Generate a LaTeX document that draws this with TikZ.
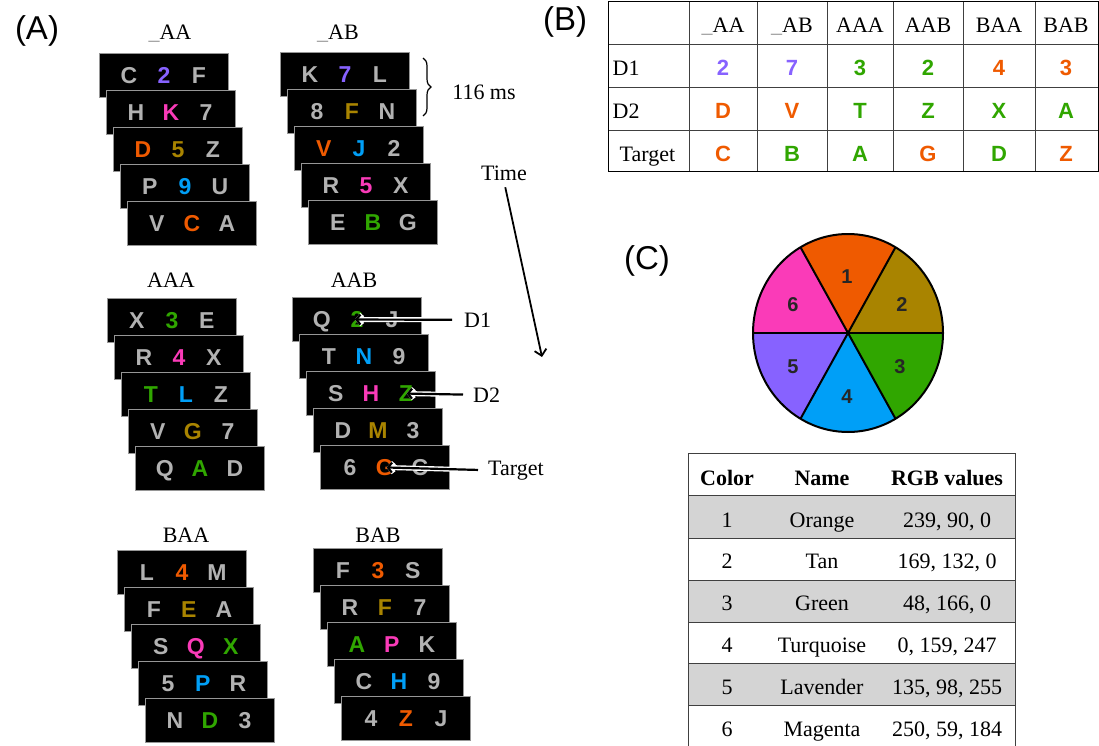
\documentclass[tikz,border=0pt]{standalone}
\usepackage{fontspec}
\setmainfont{Liberation Serif}
\newfontfamily\arialf{Liberation Sans}
\usetikzlibrary{arrows.meta,decorations.pathreplacing,calc}
\definecolor{corange}{RGB}{239,90,0}
\definecolor{ctan}{RGB}{169,132,0}
\definecolor{cgreen}{RGB}{48,166,0}
\definecolor{cturq}{RGB}{0,159,247}
\definecolor{clav}{RGB}{135,98,255}
\definecolor{cmag}{RGB}{250,59,184}
\definecolor{lgray}{RGB}{178,178,178}
\definecolor{fgray}{RGB}{150,150,150}
\definecolor{ugray}{RGB}{150,150,150}
\definecolor{tgray}{RGB}{212,212,212}
\newcommand\fsz[1]{\fontsize{#1}{#1}\selectfont}
\newcommand\kOr[1]{\textcolor{corange}{#1}}
\newcommand\kTn[1]{\textcolor{ctan}{#1}}
\newcommand\kGr[1]{\textcolor{cgreen}{#1}}
\newcommand\kTq[1]{\textcolor{cturq}{#1}}
\newcommand\kLv[1]{\textcolor{clav}{#1}}
\newcommand\kMg[1]{\textcolor{cmag}{#1}}
\newcommand\und{\textcolor{ugray}{\_}}
% stack: name, left, top, rows
\newcommand\stk[4]{%
  \foreach \a/\b/\c [count=\i from 0] in {#4} {
    \node[frame] (#1-\i) at ({#2+7*\i},{#3+37*\i}) {};
    \node[let] (#1-\i-a) at ([xshift=-35pt,yshift=-8.2pt]#1-\i.center) {\a};
    \node[let] (#1-\i-b) at ([yshift=-8.2pt]#1-\i.center) {\b};
    \node[let] (#1-\i-c) at ([xshift=35pt,yshift=-8.2pt]#1-\i.center) {\c};
  }%
}
\begin{document}
\begin{tikzpicture}[x=1pt,y=-1pt,
  frame/.style={anchor=north west, minimum width=129pt, minimum height=44pt,
    fill=black, draw=fgray, line width=0.8pt, inner sep=0pt},
  let/.style={font=\arialf\bfseries\fsz{23}, text=lgray, inner sep=0.5pt, anchor=base},
  lab/.style={font=\fsz{22}, inner sep=1pt, anchor=base},
  panel/.style={font=\arialf\fsz{33}, inner sep=0pt},
  cell/.style={font=\arialf\bfseries\fsz{22}, inner sep=0.5pt, anchor=base},
  tx/.style={font=\fsz{22}, inner sep=0.5pt, anchor=base},
  num/.style={font=\arialf\bfseries\fsz{20}, text=black!85, inner sep=0pt},
  halo/.style={black, line width=2.2pt, -{Straight Barb[length=4pt,width=10pt]},
    preaction={draw, white, line width=5pt, -{Straight Barb[length=4pt,width=10pt]}}},
  tarrow/.style={black, line width=1.8pt, -{Straight Barb[length=6pt,width=12pt]}},
  tline/.style={black!75, line width=0.9pt},
]
\useasboundingbox (0,0) rectangle (1099,746);
\fill[white] (0,0) rectangle (1099,746);

% ---------- Panel A ----------
\node[panel] (pA) at (37,31) {(A)};

\node[lab] (uAA-lab) at (170,40) {\und AA};
\stk{uAA}{99}{53}{C/\kLv{2}/F, H/\kMg{K}/7, \kOr{D}/\kTn{5}/Z, P/\kTq{9}/U, V/\kOr{C}/A}

\node[lab] (uAB-lab) at (338,40) {\und AB};
\stk{uAB}{280}{52}{K/\kLv{7}/L, 8/\kTn{F}/N, \kOr{V}/\kTq{J}/2, R/\kMg{5}/X, E/\kGr{B}/G}

\node[lab] (AAA-lab) at (171,287) {AAA};
\stk{AAA}{107}{298}{X/\kGr{3}/E, R/\kMg{4}/X, \kGr{T}/\kTq{L}/Z, V/\kTn{G}/7, Q/\kGr{A}/D}

\node[lab] (AAB-lab) at (354,287) {AAB};
\stk{AAB}{292}{297}{Q/\kGr{2}/J, T/\kTq{N}/9, S/\kMg{H}/\kGr{Z}, D/\kTn{M}/3, 6/\kOr{G}/C}

\node[lab] (BAA-lab) at (186,542) {BAA};
\stk{BAA}{117}{550}{L/\kOr{4}/M, F/\kTn{E}/A, S/\kMg{Q}/\kGr{X}, 5/\kTq{P}/R, N/\kGr{D}/3}

\node[lab] (BAB-lab) at (378,542) {BAB};
\stk{BAB}{313}{548}{F/\kOr{3}/S, R/\kTn{F}/7, \kGr{A}/\kMg{P}/K, C/\kTq{H}/9, 4/\kOr{Z}/J}

% brace and 116 ms
\coordinate (brT) at (423,58);
\coordinate (brB) at (423,116);
\draw[line width=1.2pt, decorate, decoration={brace, amplitude=8pt}] (brT) -- (brB);
\node[lab] (ms) at (484,100) {116 ms};

% time arrow
\node[lab] (Time) at (504,180) {Time};
\coordinate (tEnd) at (542,357);
\draw[tarrow, shorten <=6pt] (Time.south) -- (tEnd);

% D1 / D2 / Target
\node[lab, anchor=base west] (D1) at (463,327) {D1};
\node[lab, anchor=base west] (D2) at (472,402) {D2};
\node[lab, anchor=base west] (Tg) at (487,475) {Target};
\draw[halo, shorten <=11pt, shorten >=-9pt] (D1.west) -- (AAB-0-b.east);
\draw[halo, shorten <=9pt, shorten >=-7pt] (D2.west) -- (AAB-2-c.east);
\draw[halo, shorten <=9pt, shorten >=-8pt] (Tg.west) -- (AAB-4-b.east);

% ---------- Panel B ----------
\node[panel] (pB) at (565,22) {(B)};
\foreach \yy in {44,87,130} { \draw[tline] (608,\yy) -- (1098,\yy); }
\foreach \xx in {689,757,827,893,963,1035} { \draw[tline] (\xx,2) -- (\xx,172); }
\draw[black, line width=1pt] (608,2) rectangle (1098,172);

\node[tx] (hAA) at (723,33) {\und AA};
\node[tx] (hAB) at (792,33) {\und AB};
\node[tx] (hAAA) at (860,33) {AAA};
\node[tx] (hAAB) at (928,33) {AAB};
\node[tx] (hBAA) at (999,33) {BAA};
\node[tx] (hBAB) at (1066,33) {BAB};
\node[tx, anchor=base west] (rD1) at (612,76) {D1};
\node[tx, anchor=base west] (rD2) at (612,119) {D2};
\node[tx, anchor=base west] (rT) at (619,161) {Target};
\foreach \xx/\p/\q/\r [count=\k] in {723/\kLv{2}/\kOr{D}/\kOr{C}, 792/\kLv{7}/\kOr{V}/\kGr{B},
   860/\kGr{3}/\kGr{T}/\kGr{A}, 928/\kGr{2}/\kGr{Z}/\kOr{G},
   999/\kOr{4}/\kGr{X}/\kGr{D}, 1066/\kOr{3}/\kGr{A}/\kOr{Z}} {
  \node[cell] (b1-\k) at (\xx,76) {\p};
  \node[cell] (b2-\k) at (\xx,119) {\q};
  \node[cell] (b3-\k) at (\xx,161) {\r};
}

% ---------- Panel C ----------
\node[panel] (pC) at (647,261) {(C)};
\begin{scope}[shift={(848,333)}, y=1pt]
  \fill[ctan]    (0,0) -- (0:95 and 99)   arc[start angle=0,   end angle=60,  x radius=95, y radius=99] -- cycle;
  \fill[corange] (0,0) -- (60:95 and 99)  arc[start angle=60,  end angle=120, x radius=95, y radius=99] -- cycle;
  \fill[cmag]    (0,0) -- (120:95 and 99) arc[start angle=120, end angle=180, x radius=95, y radius=99] -- cycle;
  \fill[clav]    (0,0) -- (180:95 and 99) arc[start angle=180, end angle=240, x radius=95, y radius=99] -- cycle;
  \fill[cturq]   (0,0) -- (240:95 and 99) arc[start angle=240, end angle=300, x radius=95, y radius=99] -- cycle;
  \fill[cgreen]  (0,0) -- (300:95 and 99) arc[start angle=300, end angle=360, x radius=95, y radius=99] -- cycle;
  \draw[line width=2pt] (180:95 and 99) -- (0:95 and 99);
  \draw[line width=2pt] (60:95 and 99) -- (240:95 and 99);
  \draw[line width=2pt] (120:95 and 99) -- (300:95 and 99);
  \draw[line width=2pt] (0,0) ellipse [x radius=95, y radius=99];
\end{scope}
\node[num] (n1) at (847,277) {1};
\node[num] (n2) at (902,305) {2};
\node[num] (n3) at (900,367) {3};
\node[num] (n4) at (847,397) {4};
\node[num] (n5) at (793,367) {5};
\node[num] (n6) at (793,305) {6};

% colour table
\fill[tgray] (688,495) rectangle (1015,538);
\fill[tgray] (688,580) rectangle (1015,622);
\fill[tgray] (688,663) rectangle (1015,705);
\foreach \yy in {453,495,538,580,622,663,705} { \draw[tline, line width=1pt] (688,\yy) -- (1015,\yy); }
\draw[tline, line width=1pt] (688,453) -- (688,746);
\draw[tline, line width=1pt] (1015,453) -- (1015,746);
\node[tx, font=\bfseries\fsz{22}] (hC) at (727,485) {Color};
\node[tx, font=\bfseries\fsz{22}] (hN) at (822,485) {Name};
\node[tx, font=\bfseries\fsz{22}] (hR) at (947,485) {RGB values};
\foreach \n/\nm/\rgb [count=\k from 0] in {1/Orange/{239, 90, 0}, 2/Tan/{169, 132, 0},
   3/Green/{48, 166, 0}, 4/Turquoise/{0, 159, 247}, 5/Lavender/{135, 98, 255},
   6/Magenta/{250, 59, 184}} {
  \node[tx] (cc\n) at (727,{527+41.8*\k}) {\n};
  \node[tx] (cn\n) at (822,{527+41.8*\k}) {\nm};
  \node[tx] (cr\n) at (947,{527+41.8*\k}) {\rgb};
}
\end{tikzpicture}
\end{document}
